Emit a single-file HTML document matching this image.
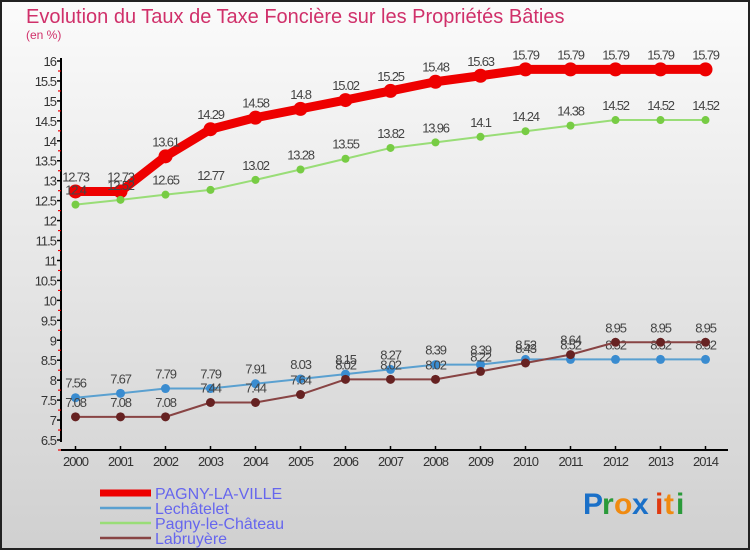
<!DOCTYPE html>
<html><head><meta charset="utf-8"><style>
body{margin:0;width:750px;height:550px;overflow:hidden}
svg{display:block;font-family:"Liberation Sans",sans-serif}
</style></head><body>
<svg id="chart" width="750" height="550" viewBox="0 0 750 550">
<defs><linearGradient id="bg" x1="0" y1="0" x2="0" y2="1"><stop offset="0" stop-color="#fbfbfb"/><stop offset="1" stop-color="#d0d0d0"/></linearGradient></defs>
<rect x="1" y="1" width="748" height="548" fill="url(#bg)" stroke="#222" stroke-width="2"/>
<text x="26" y="23" font-size="20" fill="#d0306a">Evolution du Taux de Taxe Foncière sur les Propriétés Bâties</text>
<text x="26" y="39" font-size="12" fill="#d0306a">(en %)</text>
<g id="axes"></g>
<g id="series"></g>
<g id="legend"></g>
<g font-size="30" font-weight="bold">
<text x="583" y="514" fill="#1a70c8">P</text><text x="602" y="514" fill="#2a9a3a">r</text><text x="614" y="514" fill="#f08a10">o</text><text x="632" y="514" fill="#1a70c8">x</text><text x="655" y="514" fill="#e03a10">i</text><text x="664" y="514" fill="#f08a10">t</text><text x="676" y="514" fill="#2a9a3a">i</text>
</g>
</svg>
<script>
const years=[2000,2001,2002,2003,2004,2005,2006,2007,2008,2009,2010,2011,2012,2013,2014];
const yTicks=[6.5,7,7.5,8,8.5,9,9.5,10,10.5,11,11.5,12,12.5,13,13.5,14,14.5,15,15.5,16];
const pagnyVille=[12.73,12.73,13.61,14.29,14.58,14.8,15.02,15.25,15.48,15.63,15.79,15.79,15.79,15.79,15.79];
const lechatelet=[7.56,7.67,7.79,7.79,7.91,8.03,8.15,8.27,8.39,8.39,8.52,8.52,8.52,8.52,8.52];
const pagnyChateau=[12.4,12.52,12.65,12.77,13.02,13.28,13.55,13.82,13.96,14.1,14.24,14.38,14.52,14.52,14.52];
const labruyere=[7.08,7.08,7.08,7.44,7.44,7.64,8.02,8.02,8.02,8.22,8.43,8.64,8.95,8.95,8.95];
const names=["PAGNY-LA-VILLE","Lechâtelet","Pagny-le-Château","Labruyère"];
const NS="http://www.w3.org/2000/svg";
const xS=i=>75.5+i*45;
const yS=v=>440-(v-6.5)*(379/9.5);
function mk(t,a,p){const e=document.createElementNS(NS,t);for(const k in a)e.setAttribute(k,a[k]);p.appendChild(e);return e;}
const axes=document.getElementById('axes');
const ya=mk('line',{x1:61,y1:58,x2:61,y2:442,stroke:'#000','stroke-width':2},axes);


yTicks.forEach(v=>{
 const y=yS(v);
 mk('line',{x1:57,y1:y,x2:61,y2:y,stroke:'#000','stroke-width':1.5},axes);
 mk('line',{x1:58,y1:y+10,x2:61,y2:y+10,stroke:'#e00','stroke-width':1.2},axes);
 const t=mk('text',{x:56,y:y+5,'font-size':13,'text-anchor':'end',fill:'#333','letter-spacing':'-1'},axes);
 t.textContent=String(v);
 
 
});
const xa=mk('line',{x1:61,y1:450,x2:728,y2:450,stroke:'#000','stroke-width':2},axes);


years.forEach((yr,i)=>{
 mk('line',{x1:xS(i),y1:446,x2:xS(i),y2:450,stroke:'#000','stroke-width':1.5},axes);
 const t=mk('text',{x:xS(i),y:466,'font-size':13,'text-anchor':'middle',fill:'#333','letter-spacing':'-1'},axes);
 t.textContent=String(yr);
 
 
});
const ser=document.getElementById('series');
const defs=[[pagnyVille,'#ee0000',9,7,'#ee0000'],[lechatelet,'#5aa0d0',2,4.5,'#3a8cd0'],[pagnyChateau,'#99dd77',2,4,'#77cc44'],[labruyere,'#884444',2,4.5,'#662222']];
defs.forEach((d,si)=>{
 const [vals,col,w,r,pc]=d;
 const g=mk('g',{},ser);
 
 
 const pl=mk('polyline',{points:vals.map((v,i)=>xS(i)+','+yS(v)).join(' '),fill:'none',stroke:col,'stroke-width':w,'stroke-linejoin':'round'},g);
 
 
 vals.forEach((v,i)=>{
  const c=mk('circle',{cx:xS(i),cy:yS(v),r:r,fill:pc},g);
  
  
  const t=mk('text',{x:xS(i),y:yS(v)-10,'font-size':13,'text-anchor':'middle',fill:'#444','letter-spacing':'-1.2'},g);
  t.textContent=String(v);
  
  
 });
});
const lg=document.getElementById('legend');
const lcols=['#ee0000','#5aa0d0','#99dd77','#884444'];
const lw=[7,2.5,2.5,2.5];
names.forEach((n,i)=>{
 const y=493+i*15;
 const g=mk('g',{},lg);
 
 
 mk('line',{x1:100,y1:y,x2:151,y2:y,stroke:lcols[i],'stroke-width':lw[i]},g);
 const t=mk('text',{x:155,y:y+6,'font-size':16,fill:'#6666ee'},g);
 t.textContent=n;
});
</script>
</body></html>
